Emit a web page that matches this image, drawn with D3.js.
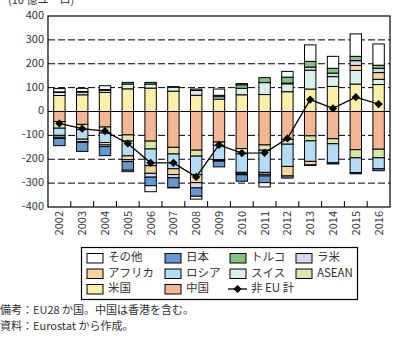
<!DOCTYPE html>
<html>
<head>
<meta charset="utf-8">
<title>EU 域外貿易収支</title>
<script src="https://d3js.org/d3.v7.min.js"></script>
<style>
body { margin:0; background:#fff; }
svg text { font-family:"Noto Sans CJK JP","Noto Sans",sans-serif; fill:#333; }
</style>
</head>
<body>
<svg id="chart" width="395" height="339"></svg>
<script>
// 年
var years = ["2002","2003","2004","2005","2006","2007","2008","2009","2010","2011","2012","2013","2014","2015","2016"];

// 相手先別の貿易収支（10 億ユーロ）
var china  = [-42,-54,-65,-98,-124,-150,-162,-128,-155,-140,-117,-102,-114,-160,-158];
var usa    = [67,70,80,95,98,85,68,52,70,71,83,94,105,115,113];
var asean  = [-28,-22,-25,-26,-33,-28,-25,-14,-22,-22,-20,-21,-21,-34,-36];
var swiss  = [13,11,9,20,17,17,20,10,27,50,33,79,41,57,22];
var russia = [-30,-40,-40,-62,-70,-62,-78,-60,-78,-93,-93,-86,-80,-62,-46];
var africa = [-8,-10,-10,-16,-32,-24,-33,-2,-6,-8,-40,-15,0,21,28];
var latam  = [-5,-3,-7,-8,-16,-14,-22,-4,-4,-7,3,13,15,20,18];
var turkey = [2,3,3,7,7,2,6,6,15,21,25,24,20,18,13];
var japan  = [-30,-38,-38,-36,-36,-40,-35,-24,-27,-28,-9,-2,-5,-5,-8];
var other  = [14,13,16,-6,-25,-2,-12,26,5,-18,24,69,50,94,89];

// 非 EU 計
var total  = [-50,-72,-82,-134,-215,-215,-274,-140,-174,-173,-113,50,13,60,31];

var yTicks = [-400,-300,-200,-100,0,100,200,300,400];

var series = [
  {key:"中国",   vals:china,  color:"#f3b893"},
  {key:"米国",   vals:usa,    color:"#fbf0a8"},
  {key:"ASEAN",  vals:asean,  color:"#d9e8a8"},
  {key:"スイス", vals:swiss,  color:"#dbefeb"},
  {key:"ロシア", vals:russia, color:"#b5dcf5"},
  {key:"アフリカ", vals:africa, color:"#f9d59d"},
  {key:"ラ米",   vals:latam,  color:"#dad6ec"},
  {key:"トルコ", vals:turkey, color:"#80c27f"},
  {key:"日本",   vals:japan,  color:"#6699cf"},
  {key:"その他", vals:other,  color:"#ffffff"}
];

var rows = years.map(function(y, i) {
  var r = {year:y};
  series.forEach(function(s) { r[s.key] = s.vals[i]; });
  return r;
});

var svg = d3.select("#chart");
var L = 48, R = 390, T = 16, B = 207;

var x = d3.scaleBand().domain(years).range([L, R]).paddingInner(0.5).paddingOuter(0.25);
var y = d3.scaleLinear().domain([-400, 400]).range([B, T]);

// 目盛線
svg.append("g").selectAll("line")
  .data(yTicks.filter(function(d){ return d !== 0 && Math.abs(d) !== 400; }))
  .enter().append("line")
    .attr("x1", L).attr("x2", R)
    .attr("y1", function(d){ return y(d); }).attr("y2", function(d){ return y(d); })
    .attr("stroke", "#000").attr("stroke-width", 1).attr("stroke-dasharray", "7,3");

// 積み上げ棒（正負に分けて積む）
var stack = d3.stack()
  .keys(series.map(function(s){ return s.key; }))
  .offset(d3.stackOffsetDiverging);
var layers = stack(rows);
var colorOf = {};
series.forEach(function(s){ colorOf[s.key] = s.color; });

svg.append("g").selectAll("g")
  .data(layers)
  .enter().append("g")
    .attr("fill", function(d){ return colorOf[d.key]; })
  .selectAll("rect")
  .data(function(d){ return d.filter(function(p){ return p[1] - p[0] !== 0; }); })
  .enter().append("rect")
    .attr("x", function(d){ return x(d.data.year); })
    .attr("width", x.bandwidth())
    .attr("y", function(d){ return y(Math.max(d[0], d[1])); })
    .attr("height", function(d){ return Math.abs(y(d[0]) - y(d[1])); })
    .attr("stroke", "#000").attr("stroke-width", 1);

// ゼロ線と枠
svg.append("line")
  .attr("x1", L).attr("x2", R).attr("y1", y(0)).attr("y2", y(0))
  .attr("stroke", "#000").attr("stroke-width", 1.2);
svg.append("rect")
  .attr("x", L).attr("y", T).attr("width", R - L).attr("height", B - T)
  .attr("fill", "none").attr("stroke", "#000").attr("stroke-width", 1.2);

// x 軸の区切り目盛
var step = x.step();
svg.append("g").selectAll("line")
  .data(d3.range(1, years.length))
  .enter().append("line")
    .attr("x1", function(i){ return L + step * i; })
    .attr("x2", function(i){ return L + step * i; })
    .attr("y1", B).attr("y2", B - 6)
    .attr("stroke", "#000").attr("stroke-width", 1);

// 非 EU 計の折れ線
var line = d3.line()
  .x(function(d, i){ return x(years[i]) + x.bandwidth() / 2; })
  .y(function(d){ return y(d); });
svg.append("path")
  .datum(total)
  .attr("d", line)
  .attr("fill", "none").attr("stroke", "#000").attr("stroke-width", 1.3);

var diamond = d3.symbol().type(d3.symbolSquare).size(34);
svg.append("g").selectAll("path")
  .data(total)
  .enter().append("path")
    .attr("d", diamond)
    .attr("transform", function(d, i){
      return "translate(" + (x(years[i]) + x.bandwidth() / 2) + "," + y(d) + ") rotate(45)";
    })
    .attr("fill", "#000");

// 軸ラベル
svg.append("g").selectAll("text")
  .data(yTicks)
  .enter().append("text")
    .attr("x", 44).attr("y", function(d){ return y(d); })
    .attr("text-anchor", "end").attr("dominant-baseline", "middle")
    .attr("font-size", 11)
    .text(function(d){ return d; });

svg.append("g").selectAll("text")
  .data(years)
  .enter().append("text")
    .attr("transform", function(d){
      return "translate(" + (x(d) + x.bandwidth() / 2 + 1) + "," + (B + 4) + ") rotate(-90)";
    })
    .attr("text-anchor", "end").attr("dominant-baseline", "middle")
    .attr("font-size", 11)
    .text(function(d){ return d; });

svg.append("text")
  .attr("x", 8).attr("y", 4)
  .attr("font-size", 11)
  .text("(10 億ユーロ)");

// 凡例
var lg = svg.append("g");
lg.append("rect")
  .attr("x", 81.5).attr("y", 247.5).attr("width", 276).attr("height", 52)
  .attr("fill", "#fff").attr("stroke", "#000").attr("stroke-width", 1.2);

var legendItems = ["その他","日本","トルコ","ラ米","アフリカ","ロシア","スイス","ASEAN","米国","中国","非 EU 計"];
var colX = [87, 165, 230, 296];
var rowY = [258, 273.5, 289];

legendItems.forEach(function(name, i) {
  var cx = colX[i % 4], cy = rowY[Math.floor(i / 4)];
  if (name === "非 EU 計") {
    lg.append("line")
      .attr("x1", cx - 2).attr("x2", cx + 17).attr("y1", cy).attr("y2", cy)
      .attr("stroke", "#000").attr("stroke-width", 1.3);
    lg.append("path")
      .attr("d", diamond)
      .attr("transform", "translate(" + (cx + 7.5) + "," + cy + ") rotate(45)")
      .attr("fill", "#000");
  } else {
    lg.append("rect")
      .attr("x", cx).attr("y", cy - 4.5).attr("width", 16).attr("height", 9.5)
      .attr("fill", colorOf[name]).attr("stroke", "#000").attr("stroke-width", 1);
  }
  lg.append("text")
    .attr("x", cx + 21).attr("y", cy)
    .attr("dominant-baseline", "middle")
    .attr("font-size", 11.5)
    .text(name);
});

// 備考・資料
svg.append("text").attr("x", 0).attr("y", 314).attr("font-size", 11)
  .text("備考：EU28 か国。中国は香港を含む。");
svg.append("text").attr("x", 0).attr("y", 330).attr("font-size", 11)
  .text("資料：Eurostat から作成。");
</script>
</body>
</html>
